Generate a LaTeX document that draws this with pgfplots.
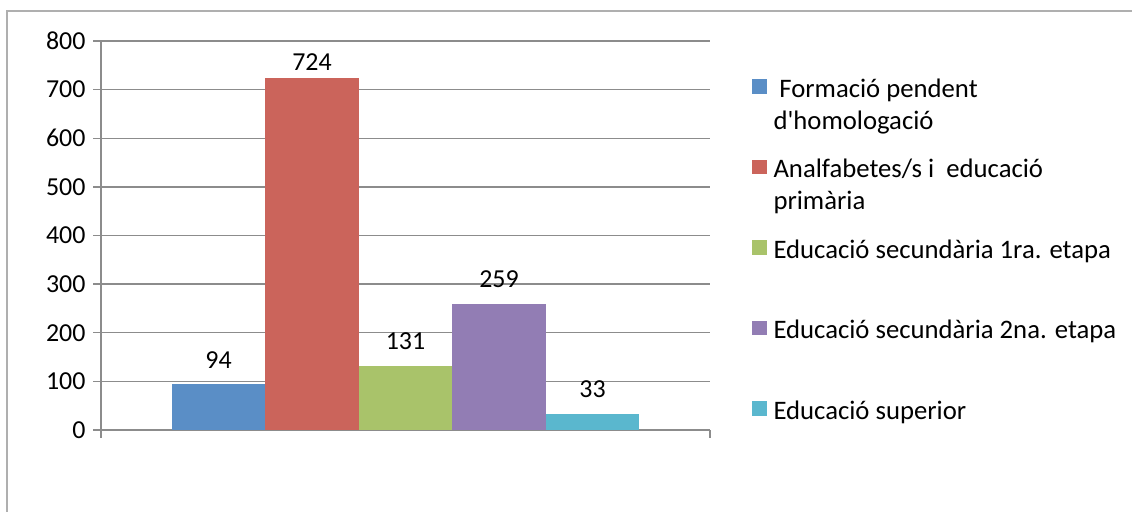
\documentclass[border=0pt]{standalone}
\usepackage{fontspec}
\setmainfont{Carlito}[Ligatures=TeXOff]
\usepackage{pgfplots}
\pgfplotsset{compat=1.18}
\definecolor{cA}{RGB}{90,142,198}
\definecolor{cB}{RGB}{203,100,91}
\definecolor{cC}{RGB}{169,195,106}
\definecolor{cD}{RGB}{146,125,180}
\definecolor{cE}{RGB}{90,183,206}
\definecolor{gridc}{RGB}{140,140,140}
\definecolor{framec}{RGB}{175,175,175}
\newcommand{\ent}[2]{\raisebox{0pt}[79bp][0bp]{\parbox[t]{360bp}{\raggedright\strut #1\\\strut #2}}}
\begin{document}
\begin{tikzpicture}
\useasboundingbox (0,0) rectangle (1132bp,512bp);
\draw[framec, line width=1.6bp] (7bp,-5bp) -- (7bp,501bp) -- (1140bp,501bp);
\begin{axis}[
  at={(101bp,82bp)}, anchor=south west,
  scale only axis, width=609bp, height=389bp,
  xmin=0, xmax=1, ymin=0, ymax=800,
  ytick distance=100, xtick={0,1}, xticklabels={},
  axis x line*=bottom, axis y line*=left,
  axis line style={gridc, line width=1.3bp},
  ymajorgrids, grid style={gridc, line width=1.3bp},
  tick align=outside, major tick length=8bp,
  tick style={gridc, line width=1.3bp},
  /pgf/number format/assume math mode=true,
  yticklabel={\fontsize{26}{30}\selectfont\pgfmathprintnumber{\tick}},
  yticklabel style={xshift=-4bp, black},
  ybar=0pt, bar width=93.5bp,
  nodes near coords,
  every node near coord/.append style={anchor=south, inner sep=0pt, yshift=16bp, font=\fontsize{26}{30}\selectfont, black},
  legend style={draw=none, fill=none, at={(1.069,1.058)}, anchor=north west, inner sep=0pt, outer sep=0pt, row sep=0pt, column sep=7bp, font=\fontsize{26.8}{32}\selectfont, nodes={inner sep=0pt}, cells={anchor=base west}},
  legend image code/.code={\fill[#1] (0bp,3.5bp) rectangle (14.5bp,18bp);},
]
\addplot[fill=cA, draw=none] coordinates {(0.5,94)};
\addlegendentry{\ent{\hspace{0.22em}Formació pendent}{d'homologació}}
\addplot[fill=cB, draw=none, every node near coord/.append style={yshift=-9bp}] coordinates {(0.5,724)};
\addlegendentry{\ent{Analfabetes/s i\ \ educació}{primària}}
\addplot[fill=cC, draw=none] coordinates {(0.5,131)};
\addlegendentry{\ent{Educació secundària 1ra. etapa}{}}
\addplot[fill=cD, draw=none] coordinates {(0.5,259)};
\addlegendentry{\ent{Educació secundària 2na. etapa}{}}
\addplot[fill=cE, draw=none] coordinates {(0.5,33)};
\addlegendentry{\ent{Educació superior}{}}
\end{axis}
\end{tikzpicture}
\end{document}
